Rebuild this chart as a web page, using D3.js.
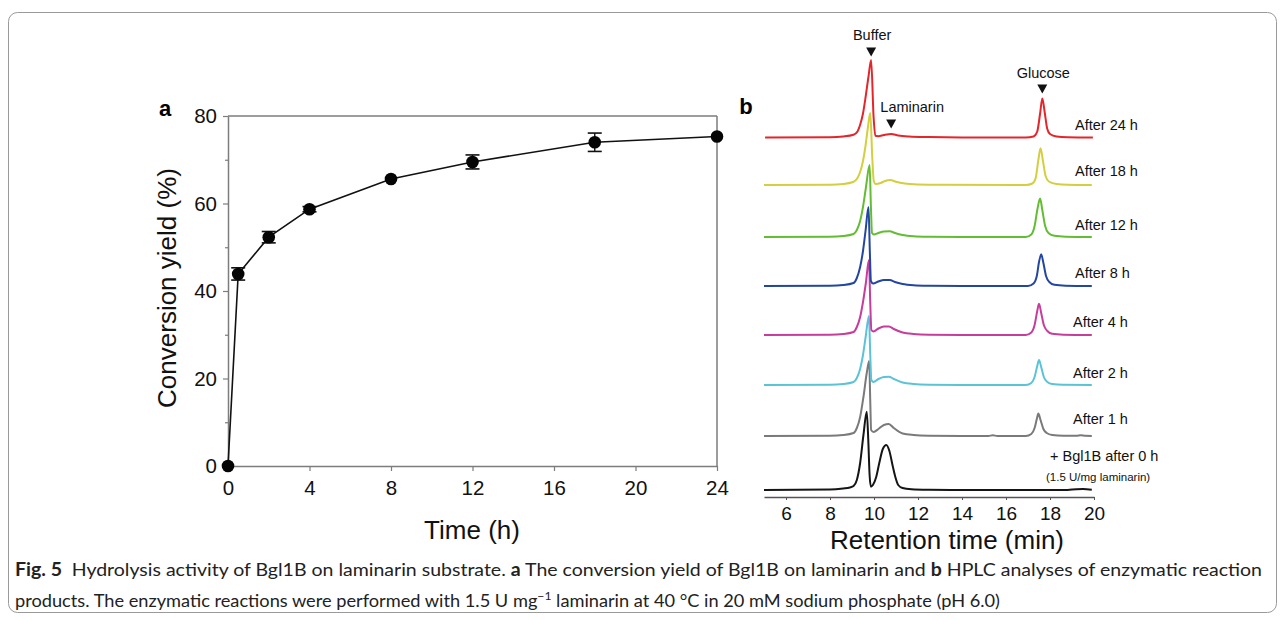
<!DOCTYPE html>
<html><head><meta charset="utf-8">
<script src="https://cdn.jsdelivr.net/npm/d3@7"></script>
<style>
html,body{margin:0;padding:0;background:#fff;}
svg{display:block;font-family:"Liberation Sans",Arial,sans-serif;}
</style></head>
<body><svg id="c" width="1284" height="620"></svg>
<script>
// ---------- Panel a data ----------
const timeH = [0, 0.5, 2, 4, 8, 12, 18, 24];
const yieldPct = [0, 43.9, 52.3, 58.7, 65.6, 69.5, 74.0, 75.3];
const yieldErr = [0, 1.4, 1.3, 0.6, 0.5, 1.6, 2.1, 0.5];
const xTicksA = [0, 4, 8, 12, 16, 20, 24];
const yTicksA = [0, 20, 40, 60, 80];
const yMinorA = [10, 30, 50, 70];

// ---------- Panel b data ----------
const traceLabels = ["+ Bgl1B after 0 h", "After 1 h", "After 2 h", "After 4 h", "After 8 h", "After 12 h", "After 18 h", "After 24 h"];
const traceColors = ["#151515", "#7a7a7a", "#5bc3d8", "#c63d9b", "#2446a3", "#63bd33", "#d3cf3e", "#e4262b"];
const traceOffsets = [0, 54, 105, 155, 204, 253, 305, 352.5];
const trace0h = [[5,0],[8,0.4],[8.6,1.5],[8.9,2.5],[9.07,4],[9.22,10],[9.37,27],[9.52,55],[9.67,78.3],[9.74,50],[9.8,15],[9.86,3.3],[9.95,5],[10.1,13],[10.25,28],[10.4,41],[10.56,45],[10.7,39],[10.85,24],[10.97,13],[11.1,5],[11.3,2],[11.7,0.8],[12.5,0.2],[13.5,0],[18.8,0],[19.2,0.8],[19.5,0.9],[19.9,0.2]];
const trace1h = [[5,0],[8,0.3],[8.6,1],[9.07,3],[9.22,8],[9.37,19],[9.52,39],[9.67,63],[9.78,75],[9.83,35],[9.87,6],[9.98,4],[10.2,7],[10.45,11],[10.67,12],[10.9,8],[11.3,2.5],[11.8,1],[12.5,0.3],[14,0],[15.2,0],[15.4,0.8],[15.6,0],[16.9,0],[17.15,2],[17.3,8],[17.4,17],[17.47,22.4],[17.57,16],[17.7,7],[17.85,3],[18.1,1],[18.6,0.2],[19.2,0.2],[19.4,0.7],[19.6,0.2],[19.9,0]];
const trace2h = [[5,0],[8,0.3],[8.6,1],[9.07,3],[9.22,7],[9.37,16],[9.5,30],[9.62,48],[9.77,69],[9.83,30],[9.88,5],[9.98,3],[10.2,6],[10.45,8],[10.68,8.3],[10.9,6],[11.3,2.5],[11.8,1],[12.5,0.3],[14,0],[16.9,0],[17.15,2],[17.3,8],[17.42,19],[17.5,25],[17.6,18],[17.72,8],[17.88,3],[18.1,1],[18.6,0.2],[19.9,0]];
const trace4h = [[5,0],[8,0.3],[8.6,1],[9.07,3],[9.22,8],[9.37,18],[9.5,33],[9.63,52],[9.77,75],[9.83,32],[9.88,5],[9.98,3.5],[10.2,6.5],[10.45,8.5],[10.68,8.6],[10.9,6],[11.3,2.5],[11.8,1],[12.5,0.3],[14,0],[16.9,0],[17.15,2.5],[17.3,10],[17.42,24],[17.5,31.3],[17.6,22],[17.72,10],[17.88,4],[18.1,1.2],[18.6,0.3],[19.9,0]];
const trace8h = [[5,0],[8,0.3],[8.6,1],[9.07,3],[9.22,8],[9.37,19],[9.5,35],[9.62,56],[9.75,79],[9.81,35],[9.86,5],[9.96,2.5],[10.2,4.5],[10.45,6],[10.72,6],[10.95,4],[11.3,2],[11.8,0.8],[12.5,0.3],[14,0],[17.0,0],[17.25,2.5],[17.4,10],[17.5,24],[17.6,31.7],[17.7,23],[17.82,10],[17.97,4],[18.2,1.2],[18.7,0.3],[19.9,0]];
const trace12h = [[5,0],[8,0.3],[8.6,1],[9.07,3],[9.22,7],[9.37,16],[9.5,30],[9.63,49],[9.8,72],[9.86,30],[9.91,4],[10.0,2.5],[10.2,4],[10.45,5.5],[10.72,5.7],[10.95,4],[11.3,2],[11.8,0.8],[12.5,0.3],[14,0],[16.9,0],[17.15,2.5],[17.3,11],[17.43,28],[17.55,38.4],[17.65,27],[17.78,11],[17.93,4],[18.2,1.2],[18.7,0.3],[19.9,0]];
const trace18h = [[5,0],[8,0.3],[8.6,1],[9.05,3],[9.25,7],[9.37,13],[9.5,24],[9.6,37],[9.72,57],[9.83,72],[9.92,28],[9.99,4],[10.08,1],[10.3,2],[10.5,4],[10.74,5],[11.0,3.2],[11.4,1.5],[12.0,0.6],[13,0.2],[16.9,0],[17.2,1.5],[17.35,7],[17.47,25],[17.57,36.7],[17.68,24],[17.8,9],[17.95,3.5],[18.3,1],[18.8,0.3],[19.9,0]];
const trace24h = [[5.05,0],[8,0.3],[8.6,1],[9.07,2.7],[9.25,6],[9.37,12.7],[9.5,24],[9.6,37.7],[9.75,61],[9.87,77.5],[9.98,21],[10.06,1.7],[10.2,1.3],[10.45,2.5],[10.78,3.5],[11.1,2],[11.6,1],[12.5,0.4],[14,0],[16.9,0],[17.25,1],[17.42,6],[17.55,24],[17.65,39],[17.76,25],[17.87,9],[18.0,3.5],[18.3,1],[18.8,0.3],[19.95,0]];
const traces = [trace0h, trace1h, trace2h, trace4h, trace8h, trace12h, trace18h, trace24h];
const xTicksB = [6, 8, 10, 12, 14, 16, 18, 20];
const peakNames = ["Buffer", "Laminarin", "Glucose"];
const peakTimes = [9.87, 10.78, 17.65];

const svg = d3.select("#c");

// frame
svg.append("rect").attr("x", 8.5).attr("y", 12.5).attr("width", 1268).attr("height", 600)
  .attr("rx", 9).attr("fill", "none").attr("stroke", "#9a9a9a").attr("stroke-width", 1);

// ================= Panel a =================
const xa = d3.scaleLinear().domain([0, 24]).range([228, 717]);
const ya = d3.scaleLinear().domain([0, 80]).range([466, 116]);
const axisCol = "#7d7d7d";
const ga = svg.append("g");

ga.append("line").attr("x1", xa(0)).attr("x2", xa(24)).attr("y1", ya(80)).attr("y2", ya(80)).attr("stroke", axisCol).attr("stroke-width", 1.5);
ga.append("line").attr("x1", xa(24)).attr("x2", xa(24)).attr("y1", ya(0)).attr("y2", ya(80)).attr("stroke", axisCol).attr("stroke-width", 1.5);

const axB = ga.append("g").attr("transform", `translate(0,${ya(0)})`)
  .call(d3.axisBottom(xa).tickValues(xTicksA).tickSize(5).tickPadding(6).tickSizeOuter(0));
const axL = ga.append("g").attr("transform", `translate(${xa(0)},0)`)
  .call(d3.axisLeft(ya).tickValues(yTicksA).tickSize(5).tickPadding(6).tickSizeOuter(0));
ga.append("g").attr("transform", `translate(${xa(0)},0)`)
  .call(d3.axisLeft(ya).tickValues(yMinorA).tickSize(3).tickFormat("").tickSizeOuter(0))
  .call(g => g.select(".domain").remove());
ga.selectAll(".domain").attr("stroke", axisCol).attr("stroke-width", 1.5);
ga.selectAll(".tick line").attr("stroke", axisCol).attr("stroke-width", 1.2);
[axB, axL].forEach(a => a.selectAll("text").attr("font-size", 20.5).attr("fill", "#111").attr("font-family", "Liberation Sans, Arial, sans-serif"));
axB.selectAll("text").attr("dy", "0.9em");

const ptsA = timeH.map((t, i) => ({t, v: yieldPct[i], e: yieldErr[i]}));
ga.append("path").datum(ptsA)
  .attr("d", d3.line().x(d => xa(d.t)).y(d => ya(d.v)))
  .attr("fill", "none").attr("stroke", "#111").attr("stroke-width", 1.6);
const eb = ga.selectAll(".eb").data(ptsA.filter(d => d.e > 0.55)).enter().append("g");
eb.append("line").attr("x1", d => xa(d.t)).attr("x2", d => xa(d.t)).attr("y1", d => ya(d.v - d.e)).attr("y2", d => ya(d.v + d.e)).attr("stroke", "#111").attr("stroke-width", 1.4);
eb.append("line").attr("x1", d => xa(d.t) - 7).attr("x2", d => xa(d.t) + 7).attr("y1", d => ya(d.v - d.e)).attr("y2", d => ya(d.v - d.e)).attr("stroke", "#111").attr("stroke-width", 1.6);
eb.append("line").attr("x1", d => xa(d.t) - 7).attr("x2", d => xa(d.t) + 7).attr("y1", d => ya(d.v + d.e)).attr("y2", d => ya(d.v + d.e)).attr("stroke", "#111").attr("stroke-width", 1.6);
ga.selectAll(".pt").data(ptsA).enter().append("circle")
  .attr("cx", d => xa(d.t)).attr("cy", d => ya(d.v)).attr("r", 6.3).attr("fill", "#050505");

ga.append("text").attr("x", 165).attr("y", 116).attr("text-anchor", "middle").attr("font-size", 22).attr("font-weight", "bold").text("a");
ga.append("text").attr("transform", "translate(176,288) rotate(-90)").attr("text-anchor", "middle").attr("font-size", 26).attr("fill", "#111").text("Conversion yield (%)");
ga.append("text").attr("x", 472).attr("y", 539).attr("text-anchor", "middle").attr("font-size", 26).attr("fill", "#111").text("Time (h)");

// ================= Panel b =================
const xb = d3.scaleLinear().domain([5, 20]).range([764, 1094]);
const yb = d3.scaleLinear().domain([0, 430]).range([490, 60]);
const gb = svg.append("g");

const axBb = gb.append("g").attr("transform", `translate(0,497)`)
  .call(d3.axisBottom(xb).tickValues(xTicksB).tickSize(3).tickPadding(4).tickSizeOuter(0));
axBb.select(".domain").attr("stroke", "#555").attr("stroke-width", 1.6);
axBb.selectAll(".tick line").attr("stroke", "#555");
axBb.selectAll("text").attr("font-size", 19).attr("fill", "#111").attr("dy", "0.85em");

const lineB = d3.line().curve(d3.curveMonotoneX);
traces.forEach((tr, i) => {
  gb.append("path")
    .attr("d", lineB(tr.map(p => [xb(p[0]), yb(p[1] + traceOffsets[i])])))
    .attr("fill", "none").attr("stroke", traceColors[i]).attr("stroke-width", 2).attr("stroke-linejoin", "round");
});

const labelPos = [[1050, 461], [1073, 424], [1073, 378], [1073, 327], [1075, 278], [1075, 230], [1075, 176], [1075, 130]];
traceLabels.forEach((lab, i) => {
  gb.append("text").attr("x", labelPos[i][0]).attr("y", labelPos[i][1]).attr("font-size", 14.5).attr("fill", "#111").text(lab);
});
gb.append("text").attr("x", 1046).attr("y", 481).attr("font-size", 11.5).attr("fill", "#111").text("(1.5 U/mg laminarin)");

const annY = [[40, 52], [112, 124], [78, 89]];
peakNames.forEach((nm, i) => {
  const px = xb(peakTimes[i]);
  const tx = i === 1 ? px + 21 : px + 1;
  gb.append("text").attr("x", tx).attr("y", annY[i][0]).attr("text-anchor", "middle").attr("font-size", 14.5).attr("fill", "#111").text(nm);
  gb.append("path").attr("d", `M${px - 5},${annY[i][1] - 4.5}L${px + 5},${annY[i][1] - 4.5}L${px},${annY[i][1] + 4.5}Z`).attr("fill", "#111");
});

gb.append("text").attr("x", 746).attr("y", 114).attr("text-anchor", "middle").attr("font-size", 22).attr("font-weight", "bold").text("b");
gb.append("text").attr("x", 947).attr("y", 549).attr("text-anchor", "middle").attr("font-size", 26).attr("fill", "#111").text("Retention time (min)");

// ================= Caption =================
const cap = svg.append("g").attr("font-family", "Lato, 'Open Sans', sans-serif").attr("fill", "#222");
const c1 = cap.append("text").attr("x", 15).attr("y", 576).attr("font-size", 18)
  .attr("textLength", 1247).attr("lengthAdjust", "spacingAndGlyphs");
c1.append("tspan").attr("font-weight", "bold").text("Fig. 5");
c1.append("tspan").text("\u2002Hydrolysis activity of Bgl1B on laminarin substrate. ");
c1.append("tspan").attr("font-weight", "bold").text("a");
c1.append("tspan").text(" The conversion yield of Bgl1B on laminarin and ");
c1.append("tspan").attr("font-weight", "bold").text("b");
c1.append("tspan").text(" HPLC analyses of enzymatic reaction");
const c2 = cap.append("text").attr("x", 15).attr("y", 607).attr("font-size", 18)
  .attr("textLength", 985).attr("lengthAdjust", "spacingAndGlyphs");
c2.append("tspan").text("products. The enzymatic reactions were performed with 1.5 U mg");
c2.append("tspan").attr("font-size", 12).attr("dy", -7).text("\u22121");
c2.append("tspan").attr("dy", 7).text(" laminarin at 40 \u00b0C in 20 mM sodium phosphate (pH 6.0)");
</script></body></html>
